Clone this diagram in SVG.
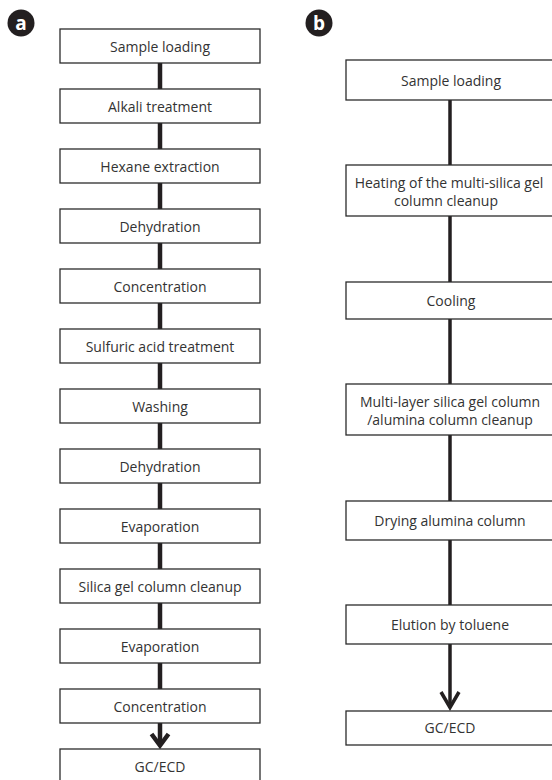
<svg xmlns="http://www.w3.org/2000/svg" width="552" height="780" viewBox="0 0 552 780">
<defs>
<style>
.box{fill:#fff;stroke:#2b2b2b;stroke-width:1.3}
.t{font-family:"Open Sans","Noto Sans",sans-serif;font-size:14px;fill:#333;text-anchor:middle}
.c{stroke:#231f20;stroke-width:4.5;fill:none}
.cr{stroke:#231f20;stroke-width:3.5;fill:none}
.badge{fill:#231f20}
.bt{font-family:"Open Sans","Noto Sans",sans-serif;font-size:19px;font-weight:bold;fill:#fff;text-anchor:middle}
</style>
</defs>
<rect width="552" height="780" fill="#fff"/>
<g id="badge-a"><circle class="badge" cx="21" cy="23" r="13.5"/><text class="bt" x="21" y="29.5">a</text></g>
<g id="badge-b"><circle class="badge" cx="319" cy="23" r="13.5"/><text class="bt" x="319" y="29.5">b</text></g>
<g id="connectors">
<line class="c" x1="160" y1="63" x2="160" y2="89"/>
<line class="c" x1="160" y1="123" x2="160" y2="149"/>
<line class="c" x1="160" y1="183" x2="160" y2="209"/>
<line class="c" x1="160" y1="243" x2="160" y2="269"/>
<line class="c" x1="160" y1="303" x2="160" y2="329"/>
<line class="c" x1="160" y1="363" x2="160" y2="389"/>
<line class="c" x1="160" y1="423" x2="160" y2="449"/>
<line class="c" x1="160" y1="483" x2="160" y2="509"/>
<line class="c" x1="160" y1="543" x2="160" y2="569"/>
<line class="c" x1="160" y1="603" x2="160" y2="629"/>
<line class="c" x1="160" y1="663" x2="160" y2="689"/>
<line class="c" x1="160" y1="723" x2="160" y2="744"/>
<polyline class="c" points="151.5,734 160,745.5 168.5,734"/>
<line class="cr" x1="450" y1="100" x2="450" y2="165"/>
<line class="cr" x1="450" y1="216" x2="450" y2="282"/>
<line class="cr" x1="450" y1="319" x2="450" y2="384"/>
<line class="cr" x1="450" y1="435" x2="450" y2="501"/>
<line class="cr" x1="450" y1="540" x2="450" y2="605"/>
<line class="cr" x1="450" y1="644" x2="450" y2="707"/>
<polyline class="cr" points="441,692 450,707.5 459,692"/>
</g>
<g id="a1"><rect class="box" x="60" y="29" width="200" height="34"/><text class="t" x="160" y="51.5">Sample loading</text></g>
<g id="a2"><rect class="box" x="60" y="89" width="200" height="34"/><text class="t" x="160" y="111.5">Alkali treatment</text></g>
<g id="a3"><rect class="box" x="60" y="149" width="200" height="34"/><text class="t" x="160" y="171.5">Hexane extraction</text></g>
<g id="a4"><rect class="box" x="60" y="209" width="200" height="34"/><text class="t" x="160" y="231.5">Dehydration</text></g>
<g id="a5"><rect class="box" x="60" y="269" width="200" height="34"/><text class="t" x="160" y="291.5">Concentration</text></g>
<g id="a6"><rect class="box" x="60" y="329" width="200" height="34"/><text class="t" x="160" y="351.5">Sulfuric acid treatment</text></g>
<g id="a7"><rect class="box" x="60" y="389" width="200" height="34"/><text class="t" x="160" y="411.5">Washing</text></g>
<g id="a8"><rect class="box" x="60" y="449" width="200" height="34"/><text class="t" x="160" y="471.5">Dehydration</text></g>
<g id="a9"><rect class="box" x="60" y="509" width="200" height="34"/><text class="t" x="160" y="531.5">Evaporation</text></g>
<g id="a10"><rect class="box" x="60" y="569" width="200" height="34"/><text class="t" x="160" y="591.5">Silica gel column cleanup</text></g>
<g id="a11"><rect class="box" x="60" y="629" width="200" height="34"/><text class="t" x="160" y="651.5">Evaporation</text></g>
<g id="a12"><rect class="box" x="60" y="689" width="200" height="34"/><text class="t" x="160" y="711.5">Concentration</text></g>
<g id="a13"><rect class="box" x="60" y="749" width="200" height="34"/><text class="t" x="160" y="771.5">GC/ECD</text></g>
<g id="b1"><rect class="box" x="346" y="60" width="210" height="40"/><text class="t" x="451" y="86">Sample loading</text></g>
<g id="b2"><rect class="box" x="346" y="165" width="210" height="51"/><text class="t" x="449" y="187.5">Heating of the multi-silica gel</text><text class="t" x="446" y="205.5">column cleanup</text></g>
<g id="b3"><rect class="box" x="346" y="282" width="210" height="37"/><text class="t" x="451" y="306">Cooling</text></g>
<g id="b4"><rect class="box" x="346" y="384" width="210" height="51"/><text class="t" x="450" y="406.5">Multi-layer silica gel column</text><text class="t" x="450" y="424.5">/alumina column cleanup</text></g>
<g id="b5"><rect class="box" x="346" y="501" width="210" height="39"/><text class="t" x="450" y="526">Drying alumina column</text></g>
<g id="b6"><rect class="box" x="346" y="605" width="210" height="39"/><text class="t" x="450" y="630">Elution by toluene</text></g>
<g id="b7"><rect class="box" x="346" y="711" width="210" height="34"/><text class="t" x="450" y="733">GC/ECD</text></g>
</svg>
